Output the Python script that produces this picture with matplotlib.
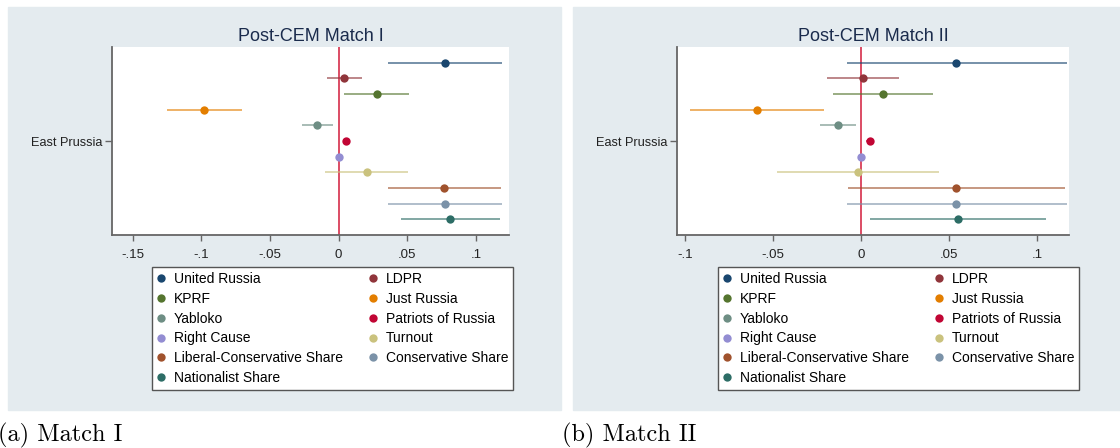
import matplotlib
matplotlib.use("Agg")
import matplotlib.pyplot as plt
from matplotlib.patches import Rectangle
from matplotlib.lines import Line2D

plt.rcParams['font.family'] = ['Liberation Sans', 'DejaVu Sans']

# series, top to bottom
series = ["United Russia", "LDPR", "KPRF", "Just Russia", "Yabloko",
          "Patriots of Russia", "Right Cause", "Turnout",
          "Liberal-Conservative Share", "Conservative Share", "Nationalist Share"]
colors = ['#1a476f', '#90353b', '#55752f', '#e37e00', '#6e8e84', '#c10534',
          '#938dd2', '#cac27e', '#a0522d', '#7b92a8', '#2d6d66']

# Match I: estimate, lower CI, upper CI
est1 = [0.0772, 0.0040, 0.0277, -0.0977, -0.0157, 0.0054, 0.0000, 0.0206, 0.0770, 0.0772, 0.0812]
lo1 = [0.0362, -0.0087, 0.0040, -0.1249, -0.0270, 0.0054, 0.0000, -0.0096, 0.0360, 0.0362, 0.0453]
hi1 = [0.1186, 0.0167, 0.0512, -0.0704, -0.0040, 0.0054, 0.0000, 0.0505, 0.1180, 0.1186, 0.1176]

# Match II
est2 = [0.0542, 0.0009, 0.0123, -0.0591, -0.0129, 0.0049, 0.0002, -0.0019, 0.0542, 0.0542, 0.0551]
lo2 = [-0.0081, -0.0193, -0.0161, -0.0972, -0.0231, 0.0030, 0.0002, -0.0477, -0.0072, -0.0081, 0.0051]
hi2 = [0.1169, 0.0214, 0.0411, -0.0212, -0.0030, 0.0068, 0.0002, 0.0443, 0.1161, 0.1169, 0.1053]

ticks1 = [-0.15, -0.1, -0.05, 0, 0.05, 0.1]
tlabels1 = ['-.15', '-.1', '-.05', '0', '.05', '.1']
ticks2 = [-0.1, -0.05, 0, 0.05, 0.1]
tlabels2 = ['-.1', '-.05', '0', '.05', '.1']

W, H = 1120, 448
fig = plt.figure(figsize=(11.2, 4.48), dpi=100)
bg = '#e4ebef'
fig.patches.append(Rectangle((8 / W, 1 - 410 / H), 553 / W, 403 / H,
                             transform=fig.transFigure, color=bg, zorder=-5))
fig.patches.append(Rectangle((573 / W, 1 - 410 / H), 547 / W, 403 / H,
                             transform=fig.transFigure, color=bg, zorder=-5))

# legend is filled row by row in the reference
leg_order = list(range(0, len(series), 2)) + list(range(1, len(series), 2))


def panel(rect, est, lo, hi, xlim, ticks, tlabels, title, leg_rect):
    ax = fig.add_axes(rect)
    ax.set_facecolor('white')
    for i, name in enumerate(series):
        y = i + 1
        ax.plot([lo[i], hi[i]], [y, y], color=colors[i], alpha=0.6, lw=1.4,
                solid_capstyle='butt', zorder=2)
        ax.plot(est[i], y, 'o', color=colors[i], ms=6, mec='none', zorder=3)
    ax.axvline(0, color='#d62d4a', lw=1.2, zorder=1)
    ax.set_xlim(xlim)
    ax.set_ylim(12, 0)
    ax.set_xticks(ticks)
    ax.set_xticklabels(tlabels, fontsize=9.5, color='#222222')
    ax.set_yticks([6])
    ax.set_yticklabels(['East Prussia'], fontsize=9.2, color='#222222')
    for s in ['top', 'right']:
        ax.spines[s].set_visible(False)
    for s in ['left', 'bottom']:
        ax.spines[s].set_color('#666666')
        ax.spines[s].set_linewidth(1.3)
    ax.tick_params(axis='x', length=4, width=1, color='#666666', pad=6)
    ax.tick_params(axis='y', length=5, width=1, color='#666666', pad=2)
    ax.set_title(title, fontsize=13, color='#1a2b4c', pad=4)

    handles = [Line2D([], [], ls='none', marker='o', ms=6, mec='none', color=colors[k])
               for k in leg_order]
    labels = [series[k] for k in leg_order]
    leg = fig.legend(handles, labels, loc='upper left', ncol=2,
                     bbox_to_anchor=leg_rect, bbox_transform=fig.transFigure,
                     mode='expand', fontsize=10, frameon=True, fancybox=False,
                     framealpha=1, handlelength=0.6, handletextpad=0.6,
                     labelspacing=0.42, borderpad=0.35, borderaxespad=0,
                     columnspacing=1.0)
    leg.get_frame().set_edgecolor('#555555')
    leg.get_frame().set_facecolor('white')
    leg.get_frame().set_linewidth(1.0)
    return ax


panel([112 / W, 1 - 235 / H, 397 / W, 188 / H], est1, lo1, hi1,
      (-0.165, 0.124), ticks1, tlabels1, 'Post-CEM Match I',
      (152 / W, 1 - 390 / H, 361 / W, 123 / H))
panel([677 / W, 1 - 235 / H, 392 / W, 188 / H], est2, lo2, hi2,
      (-0.1045, 0.1182), ticks2, tlabels2, 'Post-CEM Match II',
      (718 / W, 1 - 390 / H, 361 / W, 123 / H))

fig.text(-2 / W, 1 - 435 / H, '(a) Match I', fontsize=17.5, family='cmr10',
         va='center', ha='left')
fig.text(562 / W, 1 - 435 / H, '(b) Match II', fontsize=17.5, family='cmr10',
         va='center', ha='left')

fig.savefig('out.png', dpi=100)
